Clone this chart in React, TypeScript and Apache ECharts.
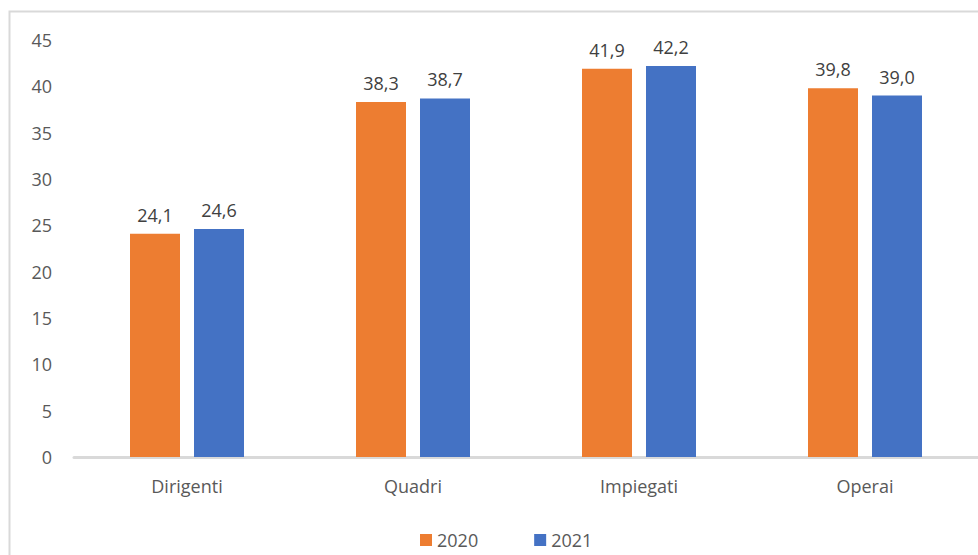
import React, { useEffect, useRef } from "react";
import * as echarts from "echarts";

const categories = ["Dirigenti", "Quadri", "Impiegati", "Operai"];
const values2020 = [24.1, 38.3, 41.9, 39.8];
const values2021 = [24.6, 38.7, 42.2, 39.0];
const seriesNames = ["2020", "2021"];
const yTicks = { min: 0, max: 45, interval: 5 };

const FONT = "'Open Sans', 'Liberation Sans', sans-serif";

export default function App() {
  const ref = useRef<HTMLDivElement>(null);
  useEffect(() => {
    if (!ref.current) return;
    const chart = echarts.init(ref.current, undefined, { renderer: "svg" });
    const fmt = (p: any) => Number(p.value).toFixed(1).replace(".", ",");
    chart.setOption({
      animation: false,
      textStyle: { fontFamily: FONT },
      graphic: [
        {
          type: "rect",
          shape: { x: 9.5, y: 11.5, width: 1000, height: 600 },
          style: { fill: "none", stroke: "#d9d9d9", lineWidth: 2 },
          silent: true,
        },
      ],
      grid: { left: 74, right: -1, top: 40, bottom: 98, containLabel: false },
      legend: {
        left: 415,
        top: 525,
        itemWidth: 12,
        itemHeight: 12,
        itemGap: 56,
        icon: "rect",
        textStyle: { fontSize: 18, color: "#595959", fontFamily: FONT, lineHeight: 20 },
        data: seriesNames,
      },
      xAxis: {
        type: "category",
        data: categories,
        axisLine: { lineStyle: { color: "#d9d9d9", width: 3 } },
        axisTick: { show: false },
        axisLabel: { fontSize: 18, color: "#595959", margin: 20, fontFamily: FONT },
      },
      yAxis: {
        type: "value",
        min: yTicks.min,
        max: yTicks.max,
        interval: yTicks.interval,
        axisLine: { show: false },
        axisTick: { show: false },
        splitLine: { show: false },
        axisLabel: { fontSize: 18, color: "#595959", margin: 22, fontFamily: FONT },
      },
      series: [
        {
          name: seriesNames[0],
          type: "bar",
          data: values2020,
          barWidth: 50,
          barGap: "28%",
          itemStyle: { color: "#ED7D31" },
          label: {
            show: true,
            position: "top",
            distance: 10,
            formatter: fmt,
            fontSize: 18,
            color: "#404040",
            fontFamily: FONT,
          },
        },
        {
          name: seriesNames[1],
          type: "bar",
          data: values2021,
          barWidth: 50,
          barGap: "28%",
          itemStyle: { color: "#4472C4" },
          label: {
            show: true,
            position: "top",
            distance: 10,
            formatter: fmt,
            fontSize: 18,
            color: "#404040",
            fontFamily: FONT,
          },
        },
      ],
    });
    return () => chart.dispose();
  }, []);
  return <div ref={ref} style={{ width: 978, height: 555, position: "absolute", left: 0, top: 0 }} />;
}
